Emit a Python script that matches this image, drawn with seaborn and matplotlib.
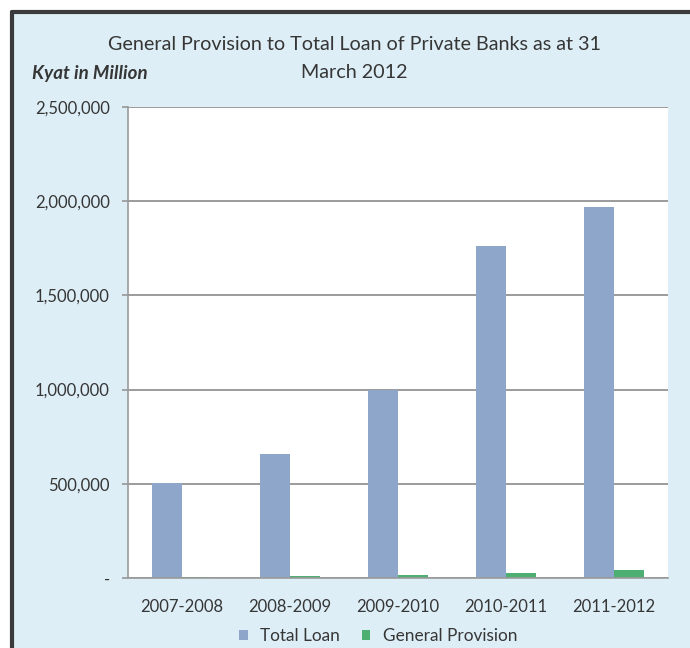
import matplotlib
matplotlib.use("Agg")
import matplotlib.pyplot as plt
import seaborn as sns
import pandas as pd
from matplotlib.patches import Rectangle
from matplotlib.lines import Line2D
from matplotlib.ticker import FuncFormatter

years = ["2007-2008", "2008-2009", "2009-2010", "2010-2011", "2011-2012"]
total_loan = [505000, 658000, 1000000, 1762000, 1970000]
general_provision = [7000, 12000, 15000, 24000, 42000]
series_names = ["Total Loan", "General Provision"]
y_ticks = [0, 500000, 1000000, 1500000, 2000000, 2500000]

df = pd.DataFrame({
    "Year": years * 2,
    "Series": [series_names[0]] * len(years) + [series_names[1]] * len(years),
    "Value": total_loan + general_provision,
})

sns.set_theme(style="white")
plt.rcParams["font.family"] = ["Lato", "DejaVu Sans"]

W, H = 690, 648
fig = plt.figure(figsize=(W / 100, H / 100), dpi=100, facecolor="white")

TXT = "#363636"

# Background panel with dark top/left border
bx, by = 12 / W, 0
bw, bh = 1 - bx, (H - 12) / H
fig.add_artist(Rectangle((bx, by), bw, bh, transform=fig.transFigure,
                         facecolor="#DDEEF6", edgecolor="none", zorder=-10))
fig.add_artist(Line2D([bx, bx], [0, bh], transform=fig.transFigure,
                      color="#3a3a3a", lw=3.0))
fig.add_artist(Line2D([bx, 1], [bh, bh], transform=fig.transFigure,
                      color="#3a3a3a", lw=3.0))

left, right, top, bottom = 128, 668, 107, 578
ax = fig.add_axes([left / W, 1 - bottom / H, (right - left) / W, (bottom - top) / H])
ax.set_facecolor("white")

sns.barplot(data=df, x="Year", y="Value", hue="Series", ax=ax,
            palette=["#8EA6CA", "#4DAF72"], width=0.556, saturation=1,
            edgecolor="none", errorbar=None)

ax.set_ylim(0, 2500000)
ax.set_yticks(y_ticks)
ax.yaxis.set_major_formatter(FuncFormatter(lambda v, p: "-" if v == 0 else f"{int(v):,}"))
ax.grid(axis="y", color="#8a8a8a", lw=1.2)
ax.set_axisbelow(True)
for s in ["top", "right"]:
    ax.spines[s].set_visible(False)
ax.spines["left"].set_color("#9a9a9a")
ax.spines["bottom"].set_color("#9a9a9a")
ax.spines["left"].set_linewidth(1.2)
ax.spines["bottom"].set_linewidth(1.2)
ax.tick_params(axis="y", length=4.3, color="#9a9a9a", labelsize=12, labelcolor=TXT,
               pad=8.7, direction="out", left=True)
ax.tick_params(axis="x", length=0, labelsize=12, labelcolor=TXT, pad=15)
ax.set_xlabel("")
ax.set_ylabel("")

handles, labels = ax.get_legend_handles_labels()
ax.get_legend().remove()
fig.legend(handles, labels, loc="center", bbox_to_anchor=(378 / W, 1 - 636 / H),
           ncol=2, frameon=False, fontsize=12.4, labelcolor=TXT,
           handlelength=0.5, handleheight=0.5, handletextpad=0.7, columnspacing=1.3)

fig.text(355 / W, 1 - 44 / H, "General Provision to Total Loan of Private Banks as at 31",
         ha="center", va="center", fontsize=14.2, color=TXT)
fig.text(354 / W, 1 - 73 / H, "March 2012", ha="center", va="center",
         fontsize=14.2, color=TXT)
fig.text(32 / W, 1 - 73 / H, "Kyat in Million", ha="left", va="center",
         fontsize=13.5, style="italic", fontweight="bold", color=TXT)

fig.savefig("out.png", dpi=100, facecolor=fig.get_facecolor())
